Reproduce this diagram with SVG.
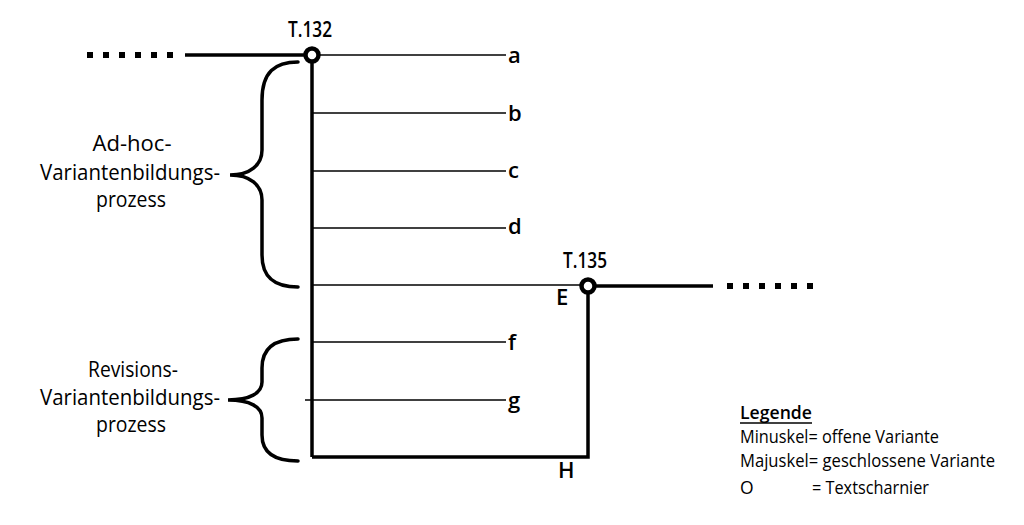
<svg xmlns="http://www.w3.org/2000/svg" width="1024" height="525" viewBox="0 0 1024 525">
<style>
.t{font-family:"Open Sans","Liberation Sans",sans-serif;fill:#000}
.lbl{font-size:22px;font-weight:600}
.tl{font-size:22px;font-weight:600}
.side{font-size:21px}
.leg{font-size:17.5px}
.thin{stroke:#000;stroke-width:1.3;fill:none}
.thick{stroke:#000;stroke-width:3.5;fill:none}
.brace{stroke:#000;stroke-width:3.5;fill:none;stroke-linecap:round}
.hinge{stroke:#000;stroke-width:4.5;fill:#fff}
</style>
<rect width="1024" height="525" fill="#fff"/>
<g id="connectors">
  <g id="dots-left" fill="#000">
    <rect x="87" y="52" width="6" height="6"/><rect x="103" y="52" width="6" height="6"/><rect x="119" y="52" width="6" height="6"/><rect x="135" y="52" width="6" height="6"/><rect x="151" y="52" width="6" height="6"/><rect x="167" y="52" width="6" height="6"/>
  </g>
  <line class="thick" x1="185" y1="55" x2="306" y2="55" stroke-width="4"/>
  <line class="thick" x1="312" y1="55" x2="312" y2="457"/>
  <polyline class="thick" points="312,457 588,457 588,286" stroke-linejoin="miter"/>
  <line class="thick" x1="594" y1="286" x2="713" y2="286" stroke-width="4"/>
  <g id="dots-right" fill="#000">
    <rect x="727" y="283" width="6" height="6"/><rect x="743" y="283" width="6" height="6"/><rect x="759" y="283" width="6" height="6"/><rect x="775" y="283" width="6" height="6"/><rect x="791" y="283" width="6" height="6"/><rect x="807" y="283" width="6" height="6"/>
  </g>
  <line class="thin" x1="312" y1="55" x2="506" y2="55"/>
  <line class="thin" x1="312" y1="113" x2="506" y2="113"/>
  <line class="thin" x1="312" y1="171" x2="506" y2="171"/>
  <line class="thin" x1="312" y1="228" x2="506" y2="228"/>
  <line class="thin" x1="312" y1="285" x2="582" y2="285"/>
  <line class="thin" x1="312" y1="342" x2="506" y2="342"/>
  <line class="thin" x1="305" y1="400" x2="506" y2="400"/>
</g>
<g id="node-T132">
  <circle class="hinge" cx="312" cy="55" r="6.5"/>
  <text class="t tl" x="310" y="37" text-anchor="middle" textLength="44" lengthAdjust="spacingAndGlyphs">T.132</text>
</g>
<g id="node-T135">
  <circle class="hinge" cx="588" cy="286" r="6.5"/>
  <text class="t tl" x="585" y="268" text-anchor="middle" textLength="44" lengthAdjust="spacingAndGlyphs">T.135</text>
</g>
<g id="node-a"><text class="t lbl" x="508" y="63">a</text></g>
<g id="node-b"><text class="t lbl" x="508" y="121">b</text></g>
<g id="node-c"><text class="t lbl" x="508" y="178">c</text></g>
<g id="node-d"><text class="t lbl" x="508" y="234">d</text></g>
<g id="node-E"><text class="t lbl" x="556" y="305">E</text></g>
<g id="node-f"><text class="t lbl" x="508" y="350">f</text></g>
<g id="node-g"><text class="t lbl" x="508" y="408">g</text></g>
<g id="node-H"><text class="t lbl" x="558" y="478">H</text></g>
<g id="brace-adhoc">
  <path class="brace" d="M298,62 C275,62 262,72 262,100 L262,150 C262,165 250,175 230,175 C250,175 262,185 262,200 L262,255 C262,278 275,287 298,287"/>
  <text class="t side" x="132" y="151" text-anchor="middle" textLength="79" lengthAdjust="spacingAndGlyphs">Ad-hoc-</text>
  <text class="t side" x="130" y="180" text-anchor="middle" textLength="180" lengthAdjust="spacingAndGlyphs">Variantenbildungs-</text>
  <text class="t side" x="131" y="207" text-anchor="middle" textLength="70" lengthAdjust="spacingAndGlyphs">prozess</text>
</g>
<g id="brace-revision">
  <path class="brace" d="M298,339 C275,339 262,348 262,368 L262,382 C262,393 250,400 228,400 C250,400 262,407 262,418 L262,435 C262,453 275,461 298,461"/>
  <text class="t side" x="133" y="377" text-anchor="middle" textLength="90" lengthAdjust="spacingAndGlyphs">Revisions-</text>
  <text class="t side" x="130" y="405" text-anchor="middle" textLength="180" lengthAdjust="spacingAndGlyphs">Variantenbildungs-</text>
  <text class="t side" x="131" y="432" text-anchor="middle" textLength="70" lengthAdjust="spacingAndGlyphs">prozess</text>
</g>
<g id="legend">
  <text class="t leg" x="740" y="419" font-weight="600" textLength="72" lengthAdjust="spacingAndGlyphs">Legende</text>
  <line x1="740" y1="423" x2="812" y2="423" stroke="#000" stroke-width="1.3"/>
  <text class="t leg" x="740" y="443" textLength="199" lengthAdjust="spacingAndGlyphs">Minuskel= offene Variante</text>
  <text class="t leg" x="740" y="467" textLength="255" lengthAdjust="spacingAndGlyphs">Majuskel= geschlossene Variante</text>
  <text class="t leg" x="740" y="494">O</text>
  <text class="t leg" x="812" y="494" textLength="117" lengthAdjust="spacingAndGlyphs">= Textscharnier</text>
</g>
</svg>
